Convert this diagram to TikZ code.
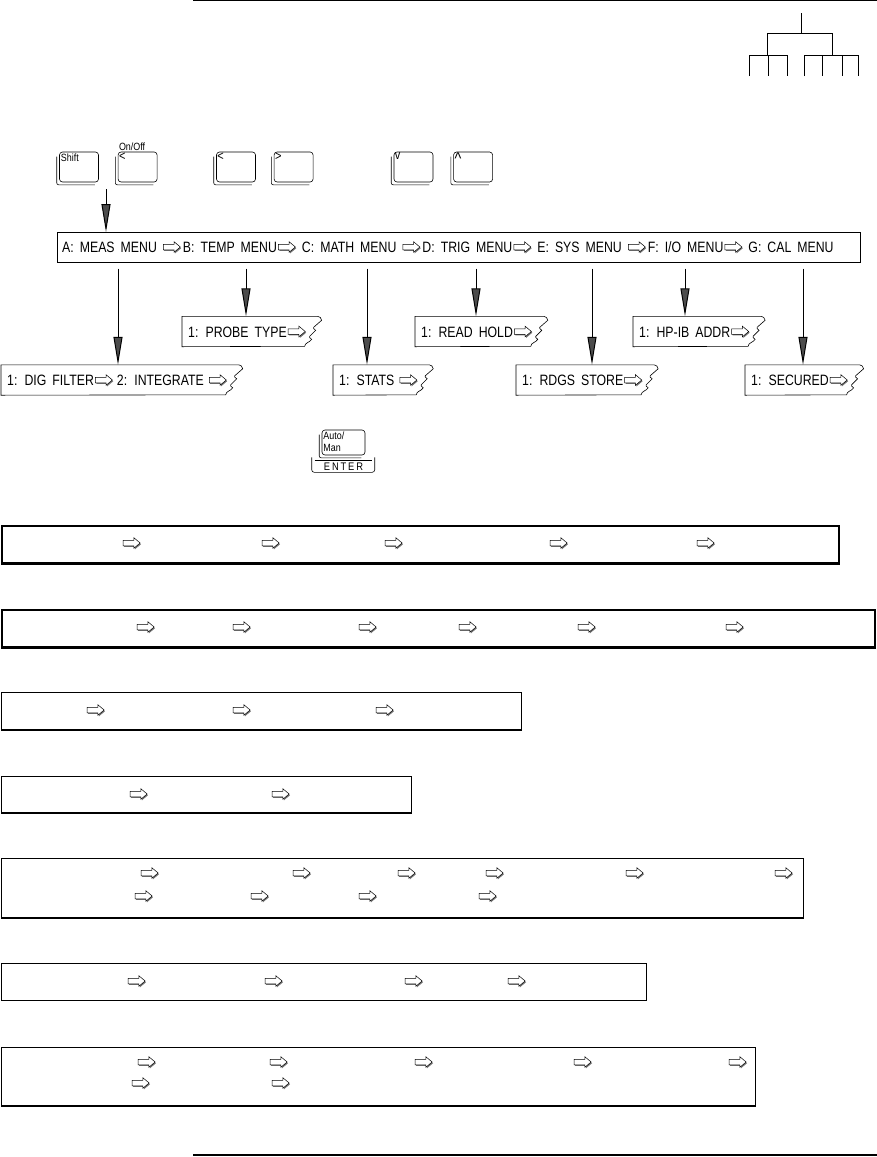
\documentclass[tikz,border=0pt]{standalone}
\usepackage{fontspec}
\usetikzlibrary{positioning,shapes.arrows,shadows,arrows.meta,calc}
\newfontfamily\menufont{Liberation Sans}[FakeStretch=0.82]
\newfontfamily\keyfont{Liberation Sans}[FakeStretch=0.85]
\newcommand{\menusize}{\menufont\fontsize{15}{17}\selectfont\spaceskip 6pt\relax}
\newcommand{\keysize}{\keyfont\fontsize{10.5}{12}\selectfont}
\newcommand{\symsize}{\keyfont\fontsize{13}{14}\selectfont}

% second outline on the lower left of a key
\newcommand{\keyshadow}[1]{%
  \draw[line width=0.6pt,rounded corners=2pt] ([xshift=-2.5pt,yshift=-5pt]#1.north west) |- ([xshift=-4pt,yshift=-2.5pt]#1.south east);}
% sub menu box with a torn right edge, from first label to last arrow
\newcommand{\tornbox}[2]{%
  \draw[line width=0.6pt] ([xshift=-6pt]#1.north west) -- ($(#2.east |- #1.north)+(12,0)$)
    to[out=0,in=100] ++(4,4) -- ++(-8,7) to[out=180,in=150] ++(2,3)
    -- ++(-6,6) to[out=180,in=150] ++(2,3) to[out=240,in=85] ++(-7,7)
    -- ([xshift=-6pt]#1.south west) -- cycle;}

\begin{document}
\begin{tikzpicture}[x=1pt,y=-1pt,
menuitem/.style={font=\menusize, inner xsep=0pt, inner ysep=9.5pt, text height=11pt, text depth=0pt},
marrow/.style={single arrow, draw, fill=white, line width=0.5pt, inner xsep=0pt, inner ysep=2.5pt, text height=0pt, text depth=0pt,
  minimum height=17pt, single arrow head extend=2.5pt, single arrow tip angle=80,
  drop shadow={shadow xshift=0.9pt, shadow yshift=-1.2pt, fill=black!55, opacity=1}},
menuflow/.style={line width=1pt, -{Triangle[length=28pt,width=9pt,fill=black!70]}},
keycap/.style={draw, line width=0.6pt, rounded corners=3pt, minimum width=39pt, minimum height=30pt, inner sep=0pt},
keytext/.style={font=\keysize, inner sep=1.5pt, anchor=north west},
keysym/.style={font=\symsize, inner sep=1pt, anchor=north west},
listbox/.style={draw, line width=1pt, inner sep=0pt, anchor=north west}
]
\useasboundingbox (0,0) rectangle (877,1157);

%Rules and tree icon
\draw[line width=1.2pt] (193,0.8) -- (877,0.8);
\draw[line width=1.2pt] (193,1155) -- (877,1155);
\draw[line width=1pt] (801,13) -- (801,33);
\draw[line width=1pt] (767,55) |- (832,33) -- (832,55);
\draw[line width=1pt] (749,76) |- (787,55) -- (787,76);
\draw[line width=1pt] (768,55) -- (768,76);
\draw[line width=1pt] (804,76) |- (858,55) -- (858,76);
\draw[line width=1pt] (822,55) -- (822,76);
\draw[line width=1pt] (842,55) -- (842,76);

%Keys
\node[keycap, label={[keytext]north west:Shift}] (shiftkey) at (79,167) {};
\node[keycap, right=19pt of shiftkey, label={[keysym]north west:<},
  label={[keytext, anchor=south west, inner sep=1pt]north west:On/Off}] (onoffkey) {};
\node[keycap, label={[keysym]north west:<}] (leftkey) at (236,167) {};
\node[keycap, right=18pt of leftkey, label={[keysym]north west:>}] (rightkey) {};
\node[keycap, label={[keysym]north west:v}] (downkey) at (413.5,167) {};
\node[keycap, right=20pt of downkey, label={[keysym, font=\keyfont\fontsize{17}{18}\selectfont]north west:\textasciicircum}] (upkey) {};
\keyshadow{shiftkey}
\keyshadow{onoffkey}
\keyshadow{leftkey}
\keyshadow{rightkey}
\keyshadow{downkey}
\keyshadow{upkey}

%Menu bar
\node[draw, line width=0.6pt, minimum width=803pt, minimum height=30pt, inner sep=0pt, anchor=north west] (menubar) at (57,232) {};
\node[menuitem, anchor=west] (meas) at (62,247) {A: MEAS MENU};
\node[marrow, right=6pt of meas] (measA) {};
\node[menuitem, right=2pt of measA] (temp) {B: TEMP MENU};
\node[marrow, right=1pt of temp] (tempA) {};
\node[menuitem, right=6pt of tempA] (math) {C: MATH MENU};
\node[marrow, right=6pt of math] (mathA) {};
\node[menuitem, right=2pt of mathA] (trig) {D: TRIG MENU};
\node[marrow, right=1pt of trig] (trigA) {};
\node[menuitem, right=6pt of trigA] (sys) {E: SYS MENU};
\node[marrow, right=6pt of sys] (sysA) {};
\node[menuitem, right=2pt of sysA] (io) {F: I/O MENU};
\node[marrow, right=1pt of io] (ioA) {};
\node[menuitem, right=6pt of ioA] (cal) {G: CAL MENU};

%Sub menus
\node[menuitem, anchor=west] (digfilter) at (7,380) {1: DIG FILTER};
\node[marrow, right=1pt of digfilter] (digfilterA) {};
\node[menuitem, right=4pt of digfilterA] (integrate) {2: INTEGRATE};
\node[marrow, right=5pt of integrate] (integrateA) {};
\node[menuitem, anchor=west] (probetype) at (188,331.5) {1: PROBE TYPE};
\node[marrow, right=1pt of probetype] (probetypeA) {};
\node[menuitem, anchor=west] (stats) at (339,380) {1: STATS};
\node[marrow, right=5pt of stats] (statsA) {};
\node[menuitem, anchor=west] (readhold) at (421,331.5) {1: READ HOLD};
\node[marrow, right=1pt of readhold] (readholdA) {};
\node[menuitem, anchor=west] (rdgsstore) at (522,380) {1: RDGS STORE};
\node[marrow, right=1pt of rdgsstore] (rdgsstoreA) {};
\node[menuitem, anchor=west] (hpibaddr) at (639,331.5) {1: HP-IB ADDR};
\node[marrow, right=1pt of hpibaddr] (hpibaddrA) {};
\node[menuitem, anchor=west] (secured) at (751,380) {1: SECURED};
\node[marrow, right=1pt of secured] (securedA) {};
\tornbox{digfilter}{integrateA}
\tornbox{probetype}{probetypeA}
\tornbox{stats}{statsA}
\tornbox{readhold}{readholdA}
\tornbox{rdgsstore}{rdgsstoreA}
\tornbox{hpibaddr}{hpibaddrA}
\tornbox{secured}{securedA}

%Lines
\coordinate (shiftdrop) at (106,189);
\coordinate (dropA) at (118,0);
\coordinate (dropB) at (246,0);
\coordinate (dropC) at (367,0);
\coordinate (dropD) at (476,0);
\coordinate (dropE) at (592,0);
\coordinate (dropF) at (685,0);
\coordinate (dropG) at (803,0);
\draw[menuflow] (shiftdrop) -- (menubar.north -| shiftdrop);
\draw[menuflow, shorten <=6pt] (menubar.south -| dropA) -- (digfilter.north -| dropA);
\draw[menuflow, shorten <=6pt] (menubar.south -| dropB) -- (probetype.north -| dropB);
\draw[menuflow, shorten <=6pt] (menubar.south -| dropC) -- (stats.north -| dropC);
\draw[menuflow, shorten <=6pt] (menubar.south -| dropD) -- (readhold.north -| dropD);
\draw[menuflow, shorten <=6pt] (menubar.south -| dropE) -- (rdgsstore.north -| dropE);
\draw[menuflow, shorten <=6pt] (menubar.south -| dropF) -- (hpibaddr.north -| dropF);
\draw[menuflow, shorten <=6pt] (menubar.south -| dropG) -- (secured.north -| dropG);

%Enter key
\node[keycap, minimum width=43pt, minimum height=25pt,
  label={[keytext, align=left]north west:Auto/\\Man}] (automan) at (343.5,442.5) {};
\keyshadow{automan}
\draw[line width=0.6pt, rounded corners=2.5pt] ([xshift=-10pt,yshift=-2pt]automan.south west) -- ++(0,15) -- ++(63,0) -- ++(0,-15);
\draw[line width=0.6pt] ([xshift=-7pt,yshift=-5pt]automan.south west) -- ([xshift=7pt,yshift=-5pt]automan.south east);
\node[font=\keyfont\fontsize{11}{12}\selectfont, inner sep=0pt] (enter) at (343.5,466.5) {E\,N\,T\,E\,R};

%Menu lists
\node[listbox, line width=1.6pt, minimum width=837pt, minimum height=37pt] (measlist) at (1,525) {};
\node[listbox, line width=1.6pt, minimum width=873pt, minimum height=37pt] (templist) at (1,609) {};
\node[listbox, minimum width=520pt, minimum height=37pt] (mathlist) at (1,692) {};
\node[listbox, minimum width=410pt, minimum height=36pt] (triglist) at (1,776) {};
\node[listbox, minimum width=802pt, minimum height=59pt] (syslist) at (1,858) {};
\node[listbox, line width=0.8pt, minimum width=645pt, minimum height=37pt] (iolist) at (1,963) {};
\node[listbox, minimum width=754pt, minimum height=58pt] (callist) at (1,1047) {};
\draw[line width=2.2pt] (measlist.south west) -- (measlist.south east);
\draw[line width=2.2pt] (templist.south west) -- (templist.south east);
\draw[line width=2.2pt] (mathlist.south west) -- (mathlist.south east);
\draw[line width=2.2pt] (triglist.south west) -- (triglist.south east);
\draw[line width=2.2pt] (syslist.south west) -- (syslist.south east);
\draw[line width=2.2pt] (callist.south west) -- (callist.south east);
\foreach \x [count=\i] in {130,269,392,557,704} \node[marrow] (meas\i) at (\x,543) {};
\foreach \x [count=\i] in {144,240,366,466,585,733} \node[marrow] (temp\i) at (\x,627) {};
\foreach \x [count=\i] in {94,240,383} \node[marrow] (math\i) at (\x,710) {};
\foreach \x [count=\i] in {137,279} \node[marrow] (trig\i) at (\x,794) {};
\foreach \x [count=\i] in {148,300,405,493,633,782} \node[marrow] (sys\i) at (\x,873) {};
\foreach \x [count=\i] in {142,258,366,486} \node[marrow] (sysb\i) at (\x,896) {};
\foreach \x [count=\i] in {135,272,412,515} \node[marrow] (io\i) at (\x,981) {};
\foreach \x [count=\i] in {145,277,422,581,736} \node[marrow] (cal\i) at (\x,1062) {};
\foreach \x [count=\i] in {139,279} \node[marrow] (calb\i) at (\x,1083) {};
\end{tikzpicture}
\end{document}
